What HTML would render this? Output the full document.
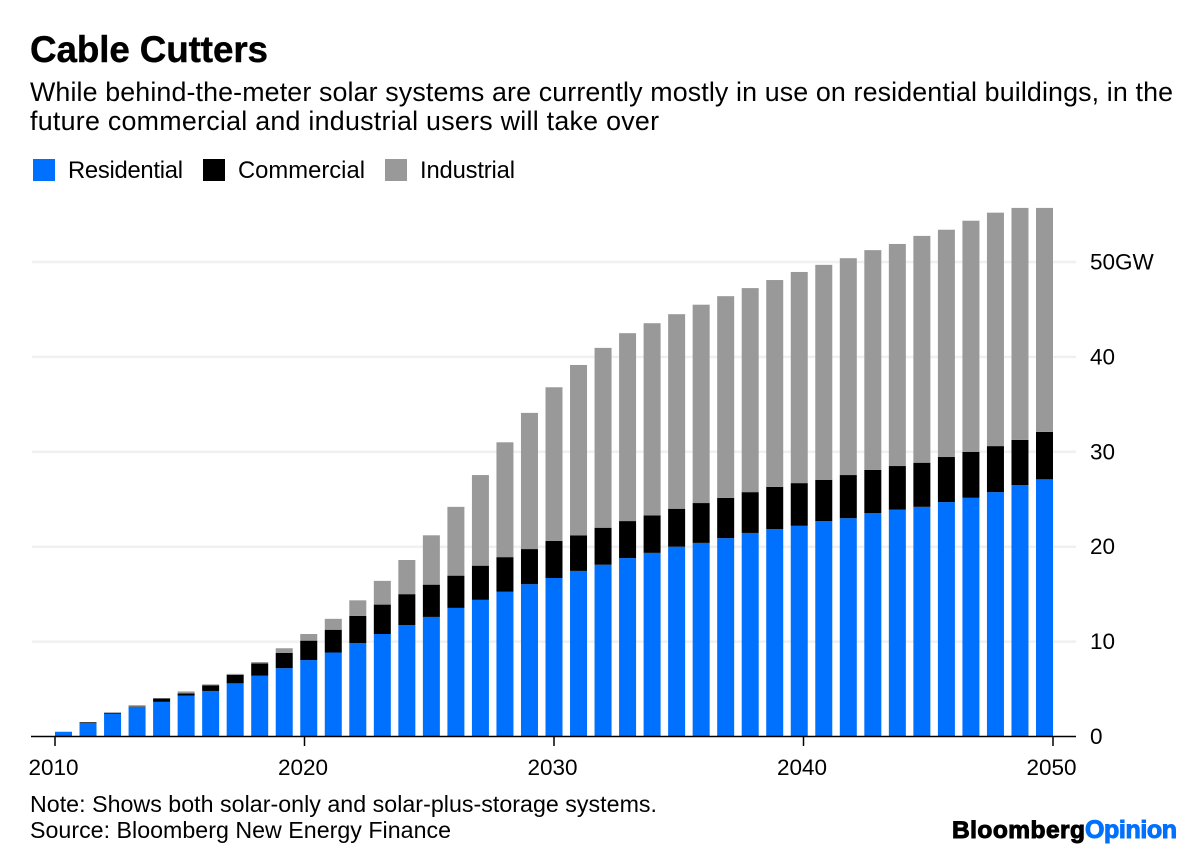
<!DOCTYPE html>
<html lang="en">
<head>
<meta charset="utf-8">
<title>Cable Cutters</title>
<style>
html,body{margin:0;padding:0;background:#fff;}
svg{display:block;}
text{font-family:"Liberation Sans",sans-serif;fill:#000;}
</style>
</head>
<body>
<svg id="chart" xmlns="http://www.w3.org/2000/svg" width="1200" height="857" viewBox="0 0 1200 857">
  <rect x="0" y="0" width="1200" height="857" fill="#fff"/>
  <text x="30" y="62" font-size="36.8" font-weight="700" stroke="#000" stroke-width="0.4" textLength="238" lengthAdjust="spacing">Cable Cutters</text>
  <text x="30" y="101" font-size="26.8" textLength="1143" lengthAdjust="spacing">While behind-the-meter solar systems are currently mostly in use on residential buildings, in the</text>
  <text x="30" y="130" font-size="26.8" textLength="629" lengthAdjust="spacing">future commercial and industrial users will take over</text>

  <g>
    <rect x="33" y="159" width="22" height="22" fill="#0070ff"/>
    <text x="68" y="178" font-size="23.8" textLength="115" lengthAdjust="spacing">Residential</text>
    <rect x="203" y="159" width="22" height="22" fill="#000"/>
    <text x="238" y="178" font-size="23.8" textLength="127" lengthAdjust="spacing">Commercial</text>
    <rect x="385" y="159" width="22" height="22" fill="#999"/>
    <text x="420" y="178" font-size="23.8" textLength="95" lengthAdjust="spacing">Industrial</text>
  </g>

  <g id="grid"></g>
  <g id="bars"></g>
  <g id="axes"></g>

  <text x="30" y="812" font-size="23.2" textLength="627" lengthAdjust="spacing">Note: Shows both solar-only and solar-plus-storage systems.</text>
  <text x="30" y="838" font-size="23.2" textLength="421" lengthAdjust="spacing">Source: Bloomberg New Energy Finance</text>
  <g>
    <text x="952" y="838" font-size="24.5" font-weight="700" stroke="#000" stroke-width="1" textLength="133" lengthAdjust="spacing">Bloomberg</text>
    <text x="1085" y="838" font-size="25" font-weight="700" stroke="#0070ff" stroke-width="1" style="fill:#0070ff" textLength="92" lengthAdjust="spacing">Opinion</text>
  </g>
</svg>
<script>
const years = [2010,2011,2012,2013,2014,2015,2016,2017,2018,2019,2020,2021,2022,2023,2024,2025,2026,2027,2028,2029,2030,2031,2032,2033,2034,2035,2036,2037,2038,2039,2040,2041,2042,2043,2044,2045,2046,2047,2048,2049,2050];
const residential = [0.5,1.4,2.4,3.1,3.65,4.3,4.8,5.6,6.4,7.2,8.05,8.85,9.85,10.8,11.75,12.6,13.55,14.4,15.25,16.05,16.7,17.45,18.1,18.8,19.35,20,20.4,20.9,21.45,21.85,22.2,22.7,23,23.55,23.9,24.2,24.7,25.15,25.75,26.5,27.1];
const commercial = [0,0.1,0.1,0.05,0.35,0.25,0.6,0.9,1.3,1.6,2.05,2.4,2.85,3.1,3.25,3.4,3.4,3.6,3.65,3.7,3.9,3.75,3.9,3.9,3.95,4,4.2,4.25,4.3,4.45,4.5,4.35,4.55,4.55,4.6,4.65,4.75,4.85,4.85,4.75,5];
const industrial = [0,0,0.05,0.15,0.05,0.2,0.1,0.1,0.15,0.5,0.7,1.15,1.65,2.5,3.6,5.2,7.25,9.55,12.1,14.35,16.2,17.95,18.95,19.8,20.25,20.5,20.9,21.25,21.5,21.8,22.25,22.65,22.85,23.15,23.4,23.9,23.95,24.35,24.6,24.45,23.6];
const yTicks = [0,10,20,30,40,50];
const xTicks = [2010,2020,2030,2040,2050];

const SVG_NS = 'http://www.w3.org/2000/svg';
function yScale(v){ return 736.5 - v * 9.49; }
function barX(i){ return 55 + i * 24.525; }
function tickX(year){ return 55 + (year - 2010) * 24.95; }
function make(tag, attrs, parent){
  const el = document.createElementNS(SVG_NS, tag);
  Object.keys(attrs).forEach(function(k){ el.setAttribute(k, attrs[k]); });
  parent.appendChild(el);
  return el;
}
const gridG = document.getElementById('grid');
const barsG = document.getElementById('bars');
const axesG = document.getElementById('axes');

yTicks.forEach(function(t){
  if (t !== 0) {
    const line = make('line', {x1:32, x2:1076, y1:yScale(t), y2:yScale(t), stroke:'#f0f0f0', 'stroke-width':2.5}, gridG);
    
    
  }
  const label = make('text', {x:1090, y:yScale(t) + 7.5, 'font-size':22.5}, axesG);
  label.textContent = t === 50 ? '50GW' : String(t);
  
  
});

const seriesList = [
  {key:'residential', values:residential, color:'#0070ff'},
  {key:'commercial', values:commercial, color:'#000'},
  {key:'industrial', values:industrial, color:'#999'}
];
years.forEach(function(year, i){
  let base = 0;
  seriesList.forEach(function(s){
    const v = s.values[i];
    const top = yScale(base + v);
    const h = yScale(base) - top;
    if (h > 0) {
      const r = make('rect', {x:barX(i), y:top, width:17, height:h, fill:s.color}, barsG);
      
      
    }
    base += v;
  });
});

const baseline = make('line', {x1:31, x2:1076, y1:736.5, y2:736.5, stroke:'#000', 'stroke-width':1.5}, axesG);



xTicks.forEach(function(year){
  const x = tickX(year);
  const tick = make('line', {x1:x, x2:x, y1:736.5, y2:746, stroke:'#000', 'stroke-width':1.5}, axesG);
  
  
  const label = make('text', {x:x - 1.5, y:775, 'font-size':22.5, 'text-anchor':'middle'}, axesG);
  label.textContent = String(year);
  
  
});
</script>
</body>
</html>
